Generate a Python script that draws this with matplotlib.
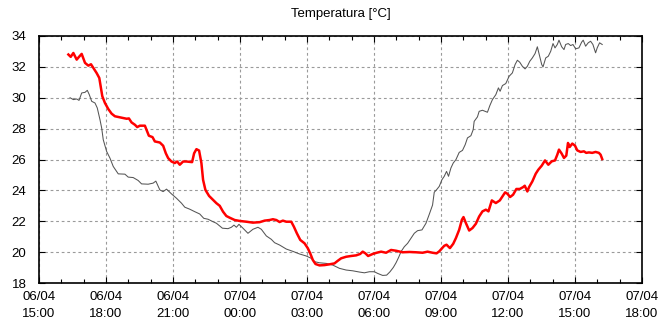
import matplotlib
matplotlib.use("Agg")
import matplotlib.pyplot as plt
import matplotlib.dates as mdates
from matplotlib import font_manager
import pandas as pd

# elapsed hours since 06/04 15:00
start = "2024-04-06 15:00"
red_hours = [1.315, 1.42, 1.538, 1.688, 1.792, 1.911, 2.06, 2.209, 2.328, 2.432, 2.581, 2.7, 2.76, 2.834,
             2.953, 3.102, 3.251, 3.4, 3.624, 3.772, 3.922, 4.026, 4.145, 4.294, 4.398, 4.517, 4.741,
             4.845, 4.919, 5.083, 5.187, 5.411, 5.56, 5.679, 5.783, 5.932, 6.081, 6.185, 6.304, 6.453,
             6.602, 6.855, 6.945, 7.049, 7.168, 7.272, 7.347, 7.451, 7.615, 7.794, 7.943, 8.092, 8.24,
             8.389, 8.538, 8.762, 8.985, 9.284, 9.579, 9.879, 10.102, 10.326, 10.473, 10.625, 10.773,
             10.92, 11.072, 11.295, 11.412, 11.546, 11.698, 11.89, 12.037, 12.144, 12.261, 12.381,
             12.56, 12.783, 13.007, 13.23, 13.378, 13.53, 13.753, 13.977, 14.2, 14.379, 14.495, 14.616,
             14.736, 14.942, 15.121, 15.317, 15.541, 15.764, 15.988, 16.282, 16.582, 16.881, 17.176,
             17.399, 17.623, 17.801, 17.922, 18.145, 18.248, 18.4, 18.547, 18.668, 18.815, 18.936,
             19.007, 19.115, 19.262, 19.41, 19.562, 19.709, 19.857, 20.009, 20.125, 20.277, 20.455,
             20.634, 20.75, 20.871, 20.974, 21.094, 21.228, 21.375, 21.527, 21.675, 21.75, 21.867,
             21.943, 22.09, 22.242, 22.358, 22.51, 22.657, 22.805, 22.957, 23.105, 23.207, 23.283,
             23.404, 23.507, 23.61, 23.686, 23.762, 23.878, 23.999, 24.102, 24.252, 24.4, 24.50,
             24.623, 24.771, 24.922, 25.07, 25.146, 25.218]
red_temp = [32.8, 32.65, 32.9, 32.47, 32.65, 32.84, 32.26, 32.08, 32.17, 31.94, 31.6, 31.28, 30.74, 30.1,
            29.66, 29.27, 28.97, 28.8, 28.73, 28.69, 28.64, 28.66, 28.4, 28.25, 28.1, 28.19, 28.19,
            27.82, 27.54, 27.45, 27.17, 27.1, 26.89, 26.4, 26.09, 25.87, 25.77, 25.87, 25.66, 25.87,
            25.87, 25.83, 26.4, 26.67, 26.58, 25.77, 24.68, 24.03, 23.64, 23.38, 23.17, 23.0, 22.62,
            22.34, 22.23, 22.08, 22.02, 21.97, 21.91, 21.94, 22.04, 22.08, 22.13, 22.08, 21.95,
            22.04, 21.97, 21.97, 21.65, 21.22, 20.79, 20.57, 20.25, 19.92, 19.49, 19.23,
            19.14, 19.16, 19.21, 19.27, 19.44, 19.6, 19.7, 19.75, 19.79, 19.88, 20.03, 19.92,
            19.75, 19.88, 19.96, 20.03, 19.96, 20.14, 20.09, 19.99, 20.01, 19.99, 19.96,
            20.03, 19.96, 19.92, 20.05, 20.41, 20.48, 20.26, 20.54, 20.91, 21.45, 22.1,
            22.27, 21.88, 21.4, 21.56, 21.84, 22.31, 22.64, 22.75, 22.64, 23.35, 23.18,
            23.35, 23.61, 23.87, 23.78, 23.57, 23.72, 24.09, 24.09, 24.21, 24.3, 23.93,
            24.21, 24.58, 25.08, 25.34, 25.6, 25.94, 25.66, 25.88, 25.94, 26.31, 26.64,
            26.38, 26.1, 26.25, 27.07, 26.81, 27.03, 26.9, 26.59, 26.49, 26.53, 26.43,
            26.46, 26.43, 26.49, 26.43, 26.31, 26.03]

gray_hours = [1.39, 1.537, 1.689, 1.792, 1.912, 2.06, 2.163, 2.252, 2.359, 2.507, 2.609, 2.73, 2.806,
              2.877, 3.029, 3.177, 3.324, 3.548, 3.847, 3.994, 4.218, 4.441, 4.593, 4.888, 5.111,
              5.232, 5.411, 5.558, 5.71, 5.934, 6.157, 6.38, 6.528, 6.751, 6.975, 7.198, 7.377,
              7.569, 7.792, 7.944, 8.212, 8.462, 8.614, 8.731, 8.838, 8.954, 9.133, 9.356, 9.579,
              9.803, 9.955, 10.178, 10.401, 10.549, 10.773, 11.072, 11.367, 11.666, 11.965, 12.189,
              12.336, 12.56, 12.859, 13.154, 13.453, 13.753, 14.047, 14.347, 14.57, 14.794, 15.017,
              15.165, 15.388, 15.567, 15.718, 15.866, 15.987, 16.103, 16.21, 16.357, 16.505, 16.657,
              16.804, 16.952, 17.148, 17.327, 17.475, 17.622, 17.698, 17.801, 17.922, 18.042,
              18.145, 18.248, 18.337, 18.444, 18.547, 18.668, 18.815, 18.962, 19.083, 19.186,
              19.338, 19.441, 19.485, 19.632, 19.709, 19.857, 19.977, 20.079, 20.186, 20.303,
              20.455, 20.571, 20.647, 20.75, 20.901, 21.049, 21.196, 21.317, 21.42, 21.527, 21.643,
              21.764, 21.867, 21.974, 22.09, 22.211, 22.314, 22.42, 22.51, 22.568, 22.689, 22.805,
              22.912, 23.015, 23.105, 23.207, 23.283, 23.404, 23.507, 23.582, 23.698, 23.806,
              23.909, 24.029, 24.176, 24.297, 24.368, 24.476, 24.592, 24.699, 24.802, 24.922,
              24.994, 25.101, 25.218]
gray_temp = [30.0, 29.88, 29.92, 29.83, 30.31, 30.35, 30.48, 30.2, 29.77, 29.66, 29.34, 28.58, 28.04,
             27.28, 26.52, 26.09, 25.55, 25.07, 25.05, 24.86, 24.83, 24.64, 24.42, 24.4, 24.47,
             24.6, 24.03, 23.92, 24.08, 23.77, 23.49, 23.17, 22.91, 22.78, 22.62, 22.47, 22.19,
             22.13, 21.97, 21.87, 21.55, 21.52, 21.61, 21.75, 21.61, 21.8, 21.55, 21.22, 21.48,
             21.61, 21.48, 21.05, 20.83, 20.61, 20.46, 20.2, 20.05, 19.88, 19.75, 19.6,
             19.38, 19.31, 19.27, 19.16, 18.95, 18.84, 18.79, 18.71, 18.66, 18.73, 18.73,
             18.62, 18.49, 18.51, 18.73, 19.01, 19.31, 19.66, 20.03, 20.35, 20.57, 20.9,
             21.22, 21.39, 21.44, 21.87, 22.45, 23.05, 23.88, 24.04, 24.26, 24.69,
             24.91, 25.23, 24.91, 25.45, 25.77, 25.99, 26.46, 26.59, 26.96, 27.4,
             27.54, 27.93, 28.47, 28.76, 29.12, 29.19, 29.12, 29.06, 29.49, 29.88,
             30.2, 30.64, 30.42, 30.79, 30.92, 31.39, 31.61, 32.15, 32.43, 32.3, 32.04,
             31.87, 32.04, 32.36, 32.58, 32.86, 33.3, 32.69, 32.15, 32.0, 32.58, 32.69,
             33.01, 33.51, 33.23, 33.45, 33.73, 33.3, 33.12, 33.45, 33.51, 33.38,
             33.45, 33.17, 33.23, 33.6, 33.73, 33.34, 33.56, 33.66, 33.45, 32.91,
             33.23, 33.56, 33.45]

title = "Temperatura [°C]"
x_min, x_max = "2024-04-06 15:00", "2024-04-07 18:00"
y_min, y_max, y_step = 18, 34, 2

t0 = pd.Timestamp(start)
red_t = t0 + pd.to_timedelta(red_hours, unit="h")
gray_t = t0 + pd.to_timedelta(gray_hours, unit="h")

available = {f.name for f in font_manager.fontManager.ttflist}
fams = [f for f in ['Liberation Sans Narrow', 'Liberation Sans', 'DejaVu Sans'] if f in available]
plt.rcParams['font.family'] = fams
fsize = 10.5 if fams[0] == 'Liberation Sans Narrow' else 9.5

fig = plt.figure(figsize=(6.63, 3.36), dpi=100)
ax = fig.add_axes([39/663, 1-283/336, (642-39)/663, (283-36)/336])

ax.plot(gray_t, gray_temp, color="#555555", lw=0.75, zorder=3)
ax.plot(red_t, red_temp, color="#ff0000", lw=1.8, zorder=4)

ax.set_xlim(pd.Timestamp(x_min), pd.Timestamp(x_max))
ax.set_ylim(y_min, y_max)
ax.set_yticks(range(y_min, y_max + 1, y_step))
ax.xaxis.set_major_locator(mdates.HourLocator(byhour=range(0, 24, 3)))
ax.xaxis.set_minor_locator(mdates.HourLocator())
ax.xaxis.set_major_formatter(mdates.DateFormatter("%d/%m\n%H:%M"))

ax.grid(True, which="major", color="#9a9a9a", linestyle=(0, (2.5, 2.5)), lw=0.8)
ax.tick_params(which="both", direction="in", top=True, right=True, labelsize=fsize,
               colors="black")
ax.tick_params(which="major", length=4, width=0.8)
ax.tick_params(which="minor", length=3, width=0.8)
ax.tick_params(axis="y", pad=9)
ax.tick_params(axis="x", pad=6)
for lab in ax.get_xticklabels():
    lab.set_linespacing(1.5)
for s in ax.spines.values():
    s.set_linewidth(1.2)

ax.set_title(title, fontsize=fsize, pad=14)

fig.savefig("out.png", dpi=100)
